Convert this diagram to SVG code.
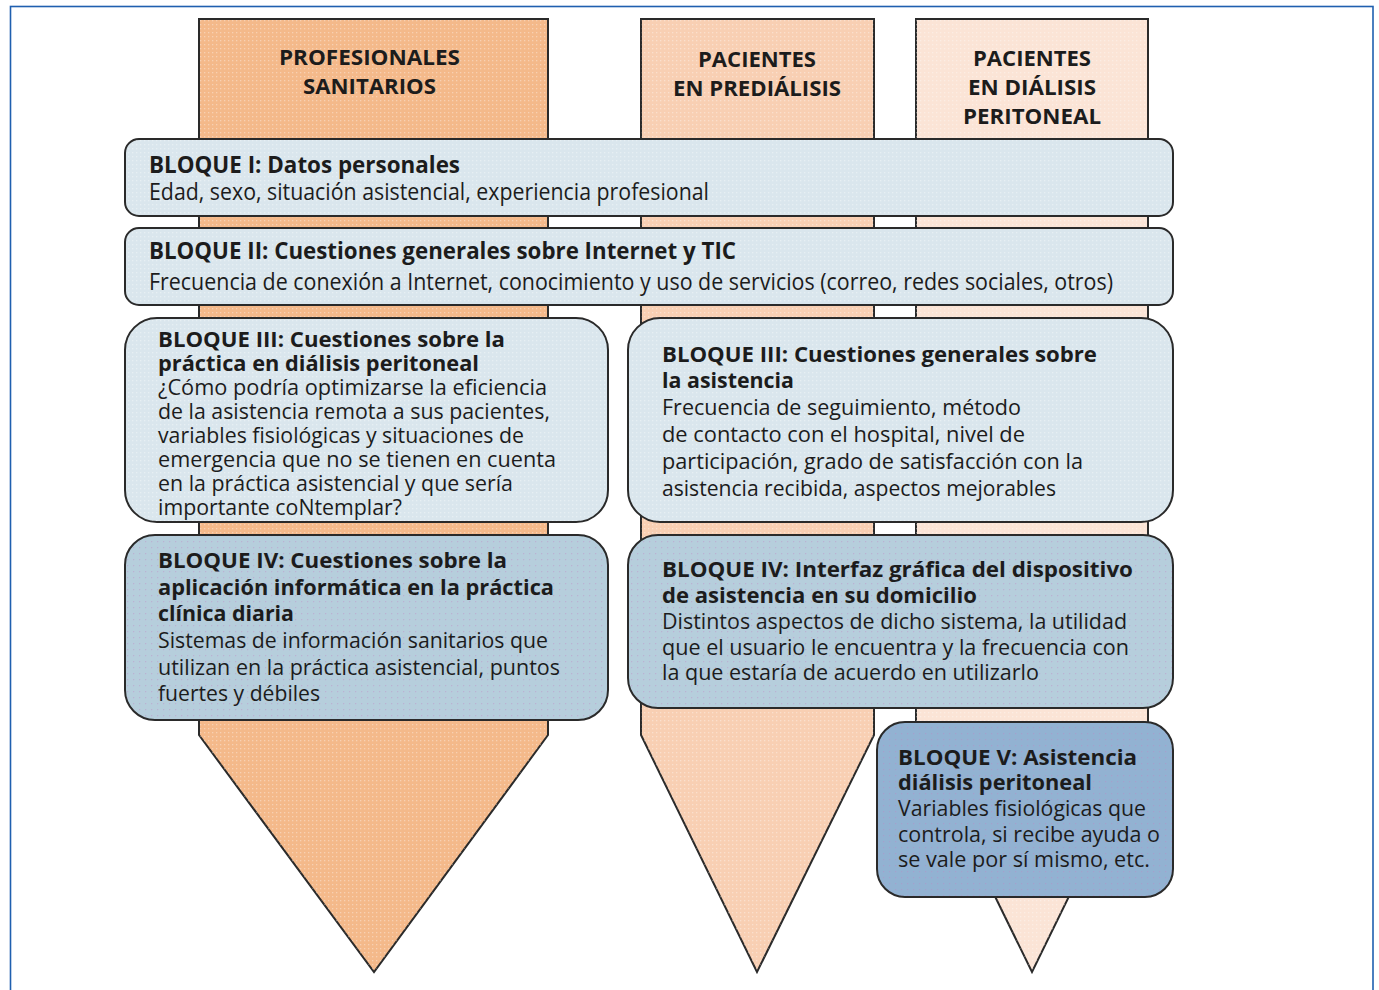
<svg xmlns="http://www.w3.org/2000/svg" width="1379" height="990" viewBox="0 0 1379 990">
<defs>
<pattern id="dots" width="4" height="4" patternUnits="userSpaceOnUse">
<rect x="0" y="0" width="1.3" height="1.3" fill="#ffffff" fill-opacity="0.35"/>
</pattern>
<pattern id="dots2" width="6" height="6" patternUnits="userSpaceOnUse">
<rect x="1" y="1" width="1.3" height="1.3" fill="#c080c0" fill-opacity="0.35"/>
</pattern>
<style>
.col{stroke:#2a2a2a;stroke-width:2;stroke-linejoin:miter}
.c1{fill:#F4B98A}
.c2{fill:#F8CFB3}
.c3{fill:#FBE4D6}
.box{stroke:#2a2a2a;stroke-width:2}
.b1{fill:#DAE6ED}
.b4{fill:#B6CEDC}
.b5{fill:#92B2D2}
.tex{fill:url(#dots);stroke:none}
.tex2{fill:url(#dots2);stroke:none}
text{font-family:"Open Sans","Noto Sans","Liberation Sans",sans-serif;fill:#1c1c1c}
.h{font-size:22px;font-weight:700}
.t{font-weight:700}
.n{font-weight:400}
.s24{font-size:23.5px}
.s22{font-size:22px}
.s21{font-size:21px}
</style>
</defs>
<rect x="10.5" y="6.5" width="1362.5" height="1000" fill="#ffffff" stroke="#1F5FAF" stroke-width="1.6"/>

<g id="columns">
<g id="col-profesionales">
<polygon class="col c1" points="199,19 548,19 548,735 374,972 199,735"/>
<polygon class="tex" points="199,19 548,19 548,735 374,972 199,735"/>
<text class="h" x="279" y="65" textLength="181" lengthAdjust="spacingAndGlyphs">PROFESIONALES</text>
<text class="h" x="303" y="94" textLength="133" lengthAdjust="spacingAndGlyphs">SANITARIOS</text>
</g>
<g id="col-prediálisis">
<polygon class="col c2" points="641,19 874,19 874,735 757,972 641,735"/>
<polygon class="tex" points="641,19 874,19 874,735 757,972 641,735"/>
<text class="h" x="698" y="67" textLength="118" lengthAdjust="spacingAndGlyphs">PACIENTES</text>
<text class="h" x="673" y="96" textLength="168" lengthAdjust="spacingAndGlyphs">EN PREDIÁLISIS</text>
</g>
<g id="col-dialisis">
<polygon class="col c3" points="916,19 1148,19 1148,735 1032,972 916,735"/>
<polygon class="tex" points="916,19 1148,19 1148,735 1032,972 916,735"/>
<text class="h" x="973" y="66" textLength="118" lengthAdjust="spacingAndGlyphs">PACIENTES</text>
<text class="h" x="968" y="95" textLength="128" lengthAdjust="spacingAndGlyphs">EN DIÁLISIS</text>
<text class="h" x="963" y="124" textLength="138" lengthAdjust="spacingAndGlyphs">PERITONEAL</text>
</g>
</g>

<g id="connectors"></g>

<g id="bloque1">
<rect class="box b1" x="125" y="139" width="1048" height="77" rx="14"/>
<rect class="tex" x="126" y="140" width="1046" height="75" rx="13"/>
<text class="t s24" x="149" y="173" textLength="311" lengthAdjust="spacingAndGlyphs">BLOQUE I: Datos personales</text>
<text class="n s24" x="149" y="200" textLength="560" lengthAdjust="spacingAndGlyphs">Edad, sexo, situación asistencial, experiencia profesional</text>
</g>

<g id="bloque2">
<rect class="box b1" x="125" y="228" width="1048" height="77" rx="14"/>
<rect class="tex" x="126" y="229" width="1046" height="75" rx="13"/>
<text class="t s24" x="149" y="259" textLength="587" lengthAdjust="spacingAndGlyphs">BLOQUE II: Cuestiones generales sobre Internet y TIC</text>
<text class="n s24" x="149" y="290" textLength="964" lengthAdjust="spacingAndGlyphs">Frecuencia de conexión a Internet, conocimiento y uso de servicios (correo, redes sociales, otros)</text>
</g>

<g id="bloque3-prof">
<rect class="box b1" x="125" y="318" width="483" height="204" rx="32"/>
<rect class="tex" x="126" y="319" width="481" height="202" rx="31"/>
<text class="t s21" x="158" y="347" textLength="347" lengthAdjust="spacingAndGlyphs">BLOQUE III: Cuestiones sobre la</text>
<text class="t s21" x="158" y="371" textLength="321" lengthAdjust="spacingAndGlyphs">práctica en diálisis peritoneal</text>
<text class="n s21" x="158" y="395" textLength="389" lengthAdjust="spacingAndGlyphs">¿Cómo podría optimizarse la eficiencia</text>
<text class="n s21" x="158" y="419" textLength="392" lengthAdjust="spacingAndGlyphs">de la asistencia remota a sus pacientes,</text>
<text class="n s21" x="158" y="443" textLength="366" lengthAdjust="spacingAndGlyphs">variables fisiológicas y situaciones de</text>
<text class="n s21" x="158" y="467" textLength="398" lengthAdjust="spacingAndGlyphs">emergencia que no se tienen en cuenta</text>
<text class="n s21" x="158" y="491" textLength="355" lengthAdjust="spacingAndGlyphs">en la práctica asistencial y que sería</text>
<text class="n s21" x="158" y="515" textLength="244" lengthAdjust="spacingAndGlyphs">importante coNtemplar?</text>
</g>

<g id="bloque3-pac">
<rect class="box b1" x="628" y="318" width="545" height="204" rx="32"/>
<rect class="tex" x="629" y="319" width="543" height="202" rx="31"/>
<text class="t s22" x="662" y="362" textLength="435" lengthAdjust="spacingAndGlyphs">BLOQUE III: Cuestiones generales sobre</text>
<text class="t s22" x="662" y="388" textLength="132" lengthAdjust="spacingAndGlyphs">la asistencia</text>
<text class="n s22" x="662" y="415" textLength="359" lengthAdjust="spacingAndGlyphs">Frecuencia de seguimiento, método</text>
<text class="n s22" x="662" y="442" textLength="363" lengthAdjust="spacingAndGlyphs">de contacto con el hospital, nivel de</text>
<text class="n s22" x="662" y="469" textLength="421" lengthAdjust="spacingAndGlyphs">participación, grado de satisfacción con la</text>
<text class="n s22" x="662" y="496" textLength="394" lengthAdjust="spacingAndGlyphs">asistencia recibida, aspectos mejorables</text>
</g>

<g id="bloque4-prof">
<rect class="box b4" x="125" y="535" width="483" height="185" rx="30"/>
<rect class="tex2" x="126" y="536" width="481" height="183" rx="29"/>
<text class="t s22" x="158" y="568" textLength="349" lengthAdjust="spacingAndGlyphs">BLOQUE IV: Cuestiones sobre la</text>
<text class="t s22" x="158" y="595" textLength="396" lengthAdjust="spacingAndGlyphs">aplicación informática en la práctica</text>
<text class="t s22" x="158" y="621" textLength="136" lengthAdjust="spacingAndGlyphs">clínica diaria</text>
<text class="n s22" x="158" y="648" textLength="390" lengthAdjust="spacingAndGlyphs">Sistemas de información sanitarios que</text>
<text class="n s22" x="158" y="675" textLength="402" lengthAdjust="spacingAndGlyphs">utilizan en la práctica asistencial, puntos</text>
<text class="n s22" x="158" y="701" textLength="162" lengthAdjust="spacingAndGlyphs">fuertes y débiles</text>
</g>

<g id="bloque4-pac">
<rect class="box b4" x="628" y="535" width="545" height="173" rx="30"/>
<rect class="tex2" x="629" y="536" width="543" height="171" rx="29"/>
<text class="t s22" x="662" y="577" textLength="471" lengthAdjust="spacingAndGlyphs">BLOQUE IV: Interfaz gráfica del dispositivo</text>
<text class="t s22" x="662" y="603" textLength="315" lengthAdjust="spacingAndGlyphs">de asistencia en su domicilio</text>
<text class="n s22" x="662" y="629" textLength="465" lengthAdjust="spacingAndGlyphs">Distintos aspectos de dicho sistema, la utilidad</text>
<text class="n s22" x="662" y="655" textLength="467" lengthAdjust="spacingAndGlyphs">que el usuario le encuentra y la frecuencia con</text>
<text class="n s22" x="662" y="680" textLength="377" lengthAdjust="spacingAndGlyphs">la que estaría de acuerdo en utilizarlo</text>
</g>

<g id="bloque5">
<rect class="box b5" x="877" y="722" width="296" height="175" rx="28"/>
<rect class="tex2" x="878" y="723" width="294" height="173" rx="27"/>
<text class="t s22" x="898" y="765" textLength="239" lengthAdjust="spacingAndGlyphs">BLOQUE V: Asistencia</text>
<text class="t s22" x="898" y="790" textLength="194" lengthAdjust="spacingAndGlyphs">diálisis peritoneal</text>
<text class="n s22" x="898" y="816" textLength="248" lengthAdjust="spacingAndGlyphs">Variables fisiológicas que</text>
<text class="n s22" x="898" y="842" textLength="262" lengthAdjust="spacingAndGlyphs">controla, si recibe ayuda o</text>
<text class="n s22" x="898" y="867" textLength="252" lengthAdjust="spacingAndGlyphs">se vale por sí mismo, etc.</text>
</g>
</svg>
